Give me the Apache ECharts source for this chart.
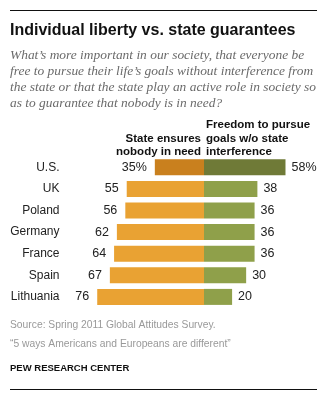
<!DOCTYPE html>
<html>
<head>
<meta charset="utf-8">
<style>
html,body{margin:0;padding:0;background:#fff;}
#chart{width:333px;height:405px;}
</style>
<script src="https://cdn.jsdelivr.net/npm/echarts@6/dist/echarts.min.js"></script>
</head>
<body>
<div id="chart"></div>
<script>
// Survey countries, top to bottom
const countries = ['U.S.', 'UK', 'Poland', 'Germany', 'France', 'Spain', 'Lithuania'];
// % saying the state should ensure nobody is in need
const stateEnsures = [35, 55, 56, 62, 64, 67, 76];
// % saying freedom to pursue goals without state interference
const freedomPursue = [58, 38, 36, 36, 36, 30, 20];

const ORANGE = '#E9A233', ORANGE_DARK = '#C9801E';
const GREEN = '#8FA04A', GREEN_DARK = '#6F7A37';

const chart = echarts.init(document.getElementById('chart'), null, {renderer: 'canvas'});

const labelFont = {fontFamily: 'Liberation Sans, Arial, sans-serif', fontSize: 12.5, color: '#222'};

const leftData = stateEnsures.map((v, i) => ({
  value: -v,
  itemStyle: {color: i === 0 ? ORANGE_DARK : ORANGE}
}));
const rightData = freedomPursue.map((v, i) => ({
  value: v,
  itemStyle: {color: i === 0 ? GREEN_DARK : GREEN}
}));

const subtitleLines = [
  "What\u2019s more important in our society, that everyone be",
  "free to pursue their life\u2019s goals without interference from",
  "the state or that the state play an active role in society so",
  "as to guarantee that nobody is in need?"
];

// Size the italic question so its widest line spans the text column (308px)
const SERIF = '"Liberation Serif", "Times New Roman", serif';
const ctx = document.createElement('canvas').getContext('2d');
ctx.font = 'italic 100px ' + SERIF;
const widest = Math.max(...subtitleLines.map(l => ctx.measureText(l).width));
const subSize = Math.min(17, 100 * 306 / widest);

chart.setOption({
  animation: false,
  backgroundColor: '#fff',
  grid: {left: 63.5, right: 16.6, top: 156.5, height: 151.2, containLabel: false},
  xAxis: {
    type: 'value', min: -100, max: 80, show: false
  },
  yAxis: {
    type: 'category', data: countries, inverse: true,
    axisLine: {show: false}, axisTick: {show: false},
    axisLabel: Object.assign({margin: 4, align: 'right'}, labelFont, {fontSize: 12})
  },
  series: [
    {
      type: 'bar', stack: 'all', data: leftData, barWidth: 16,
      label: {
        show: true, position: 'left', distance: 8,
        formatter: p => Math.abs(p.value) + (p.dataIndex === 0 ? '%' : ''),
        ...labelFont
      }
    },
    {
      type: 'bar', stack: 'all', data: rightData, barWidth: 16,
      label: {
        show: true, position: 'right', distance: 6,
        formatter: p => p.value + (p.dataIndex === 0 ? '%' : ''),
        ...labelFont
      }
    }
  ],
  graphic: [
    {type: 'line', shape: {x1: 10, y1: 10.5, x2: 317, y2: 10.5}, style: {stroke: '#111', lineWidth: 1}},
    {type: 'text', left: 10, top: 23, style: {
      text: 'Individual liberty vs. state guarantees',
      font: 'bold 16px "Liberation Sans", Arial, sans-serif', fill: '#111'}},
    {type: 'text', left: 10, top: 47, style: {
      text: subtitleLines.join('\n'), font: 'italic ' + subSize.toFixed(2) + 'px ' + SERIF,
      fill: '#6a6a6a', lineHeight: 16.2}},
    {type: 'text', x: 201, y: 132, style: {
      text: 'State ensures\nnobody in need', align: 'right',
      font: 'bold 11.5px "Liberation Sans", Arial, sans-serif', fill: '#111', lineHeight: 13.3}},
    {type: 'text', x: 206, y: 118.5, style: {
      text: 'Freedom to pursue\ngoals w/o state\ninterference', align: 'left',
      font: 'bold 11.5px "Liberation Sans", Arial, sans-serif', fill: '#111', lineHeight: 13.3}},
    {type: 'text', left: 10, top: 316, style: {
      text: 'Source: Spring 2011 Global Attitudes Survey.\n\u201c5 ways Americans and Europeans are different\u201d',
      font: '10.3px "Liberation Sans", Arial, sans-serif', fill: '#999', lineHeight: 18.5}},
    {type: 'text', left: 10, top: 363, style: {
      text: 'PEW RESEARCH CENTER',
      font: 'bold 9.5px "Liberation Sans", Arial, sans-serif', fill: '#111'}},
    {type: 'line', shape: {x1: 10, y1: 389.5, x2: 317, y2: 389.5}, style: {stroke: '#111', lineWidth: 1}}
  ]
});
</script>
</body>
</html>
